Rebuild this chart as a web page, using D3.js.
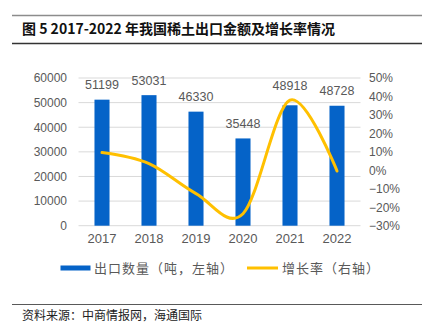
<!DOCTYPE html>
<html><head><meta charset="utf-8">
<script src="https://cdn.jsdelivr.net/npm/d3@7"></script>
<style>html,body{margin:0;padding:0;background:#fff;}svg{display:block;}</style>
</head><body>
<svg id="c" width="429" height="330"></svg>
<script>
const years = ["2017","2018","2019","2020","2021","2022"];
const exportVolume = [51199, 53031, 46330, 35448, 48918, 48728];
const growthRate = [0.096, 0.036, -0.126, -0.235, 0.380, -0.004];
const leftTicks = [0, 10000, 20000, 30000, 40000, 50000, 60000];
const rightTicks = [-0.3, -0.2, -0.1, 0, 0.1, 0.2, 0.3, 0.4, 0.5];
const titleText = "图 5 2017-2022 年我国稀土出口金额及增长率情况";
const legendLabels = ["出口数量（吨，左轴）", "增长率（右轴）"];
const sourceText = "资料来源：中商情报网，海通国际";

const svg = d3.select("#c");
const numFont = "'Liberation Sans', Arial, sans-serif";
const cjkFont = "'Noto Sans CJK SC', sans-serif";
const gray = "#595959";

// header lines and title
svg.append("line").attr("x1",12).attr("x2",422).attr("y1",15.5).attr("y2",15.5).attr("stroke","#8c8c8c").attr("stroke-width",1.5);
svg.append("text").attr("x",22).attr("y",33.5).attr("font-family",cjkFont).attr("font-weight","bold").attr("font-size",14).attr("fill","#111").text(titleText);
svg.append("line").attr("x1",12).attr("x2",422).attr("y1",43.5).attr("y2",43.5).attr("stroke","#333").attr("stroke-width",1.5);

const x = d3.scaleBand().domain(years).range([78.5, 360.5]).paddingInner(0.68).paddingOuter(0.34);
const yL = d3.scaleLinear().domain([0, 60000]).range([225.7, 78]);
const yR = d3.scaleLinear().domain([-0.3, 0.5]).range([225.7, 78]);

// gridlines
svg.append("g").selectAll("line").data(leftTicks).join("line")
  .attr("x1",78.5).attr("x2",360.5)
  .attr("y1",d=>yL(d)).attr("y2",d=>yL(d))
  .attr("stroke","#d9d9d9").attr("stroke-width",1);

// left axis
const gl = svg.append("g").attr("transform","translate(67,0)")
  .call(d3.axisLeft(yL).tickValues(leftTicks).tickSize(0).tickPadding(0).tickFormat(d3.format("d")));
gl.select(".domain").remove();
gl.selectAll("text").attr("font-family",numFont).attr("font-size",12).attr("fill",gray);

// right axis
const gr = svg.append("g").attr("transform","translate(369,0)")
  .call(d3.axisRight(yR).tickValues(rightTicks).tickSize(0).tickPadding(0).tickFormat(d=>d3.format(".0%")(d).replace("-","−")));
gr.select(".domain").remove();
gr.selectAll("text").attr("font-family",numFont).attr("font-size",12).attr("fill",gray);

// bottom axis
const gb = svg.append("g").attr("transform","translate(0,232)")
  .call(d3.axisBottom(x).tickSize(0).tickPadding(2));
gb.select(".domain").remove();
gb.selectAll("text").attr("font-family",numFont).attr("font-size",13).attr("fill",gray);

// bars
svg.append("g").selectAll("rect").data(years).join("rect")
  .attr("x",d=>x(d)).attr("width",x.bandwidth())
  .attr("y",(d,i)=>yL(exportVolume[i])).attr("height",(d,i)=>yL(0)-yL(exportVolume[i]))
  .attr("fill","#0563C8");

// bar labels
svg.append("g").selectAll("text").data(years).join("text")
  .attr("x",d=>x(d)+x.bandwidth()/2)
  .attr("y",(d,i)=>yL(exportVolume[i]) - 10.5 - (d==="2021"?5:0))
  .attr("text-anchor","middle").attr("font-family",numFont).attr("font-size",12.5).attr("fill",gray)
  .text((d,i)=>exportVolume[i]);

// growth line
const line = d3.line().x((d,i)=>x(years[i])+x.bandwidth()/2).y(d=>yR(d)).curve(d3.curveCatmullRom.alpha(0));
svg.append("path").datum(growthRate).attr("d",line).attr("fill","none").attr("stroke","#FFC000").attr("stroke-width",3).attr("stroke-linecap","round");

// legend
svg.append("rect").attr("x",60.5).attr("y",265.5).attr("width",30).attr("height",5).attr("fill","#0563C8");
svg.append("text").attr("x",94).attr("y",273).attr("font-family",cjkFont).attr("font-size",13).attr("letter-spacing",1).attr("fill",gray).text(legendLabels[0]);
svg.append("line").attr("x1",247).attr("x2",278).attr("y1",268).attr("y2",268).attr("stroke","#FFC000").attr("stroke-width",3);
svg.append("text").attr("x",282).attr("y",273).attr("font-family",cjkFont).attr("font-size",13).attr("letter-spacing",1).attr("fill",gray).text(legendLabels[1]);

// footer
svg.append("line").attr("x1",12).attr("x2",422).attr("y1",304.5).attr("y2",304.5).attr("stroke","#595959").attr("stroke-width",1.2);
svg.append("text").attr("x",22).attr("y",320).attr("font-family",cjkFont).attr("font-size",12).attr("fill","#222").text(sourceText);
</script>
</body></html>
